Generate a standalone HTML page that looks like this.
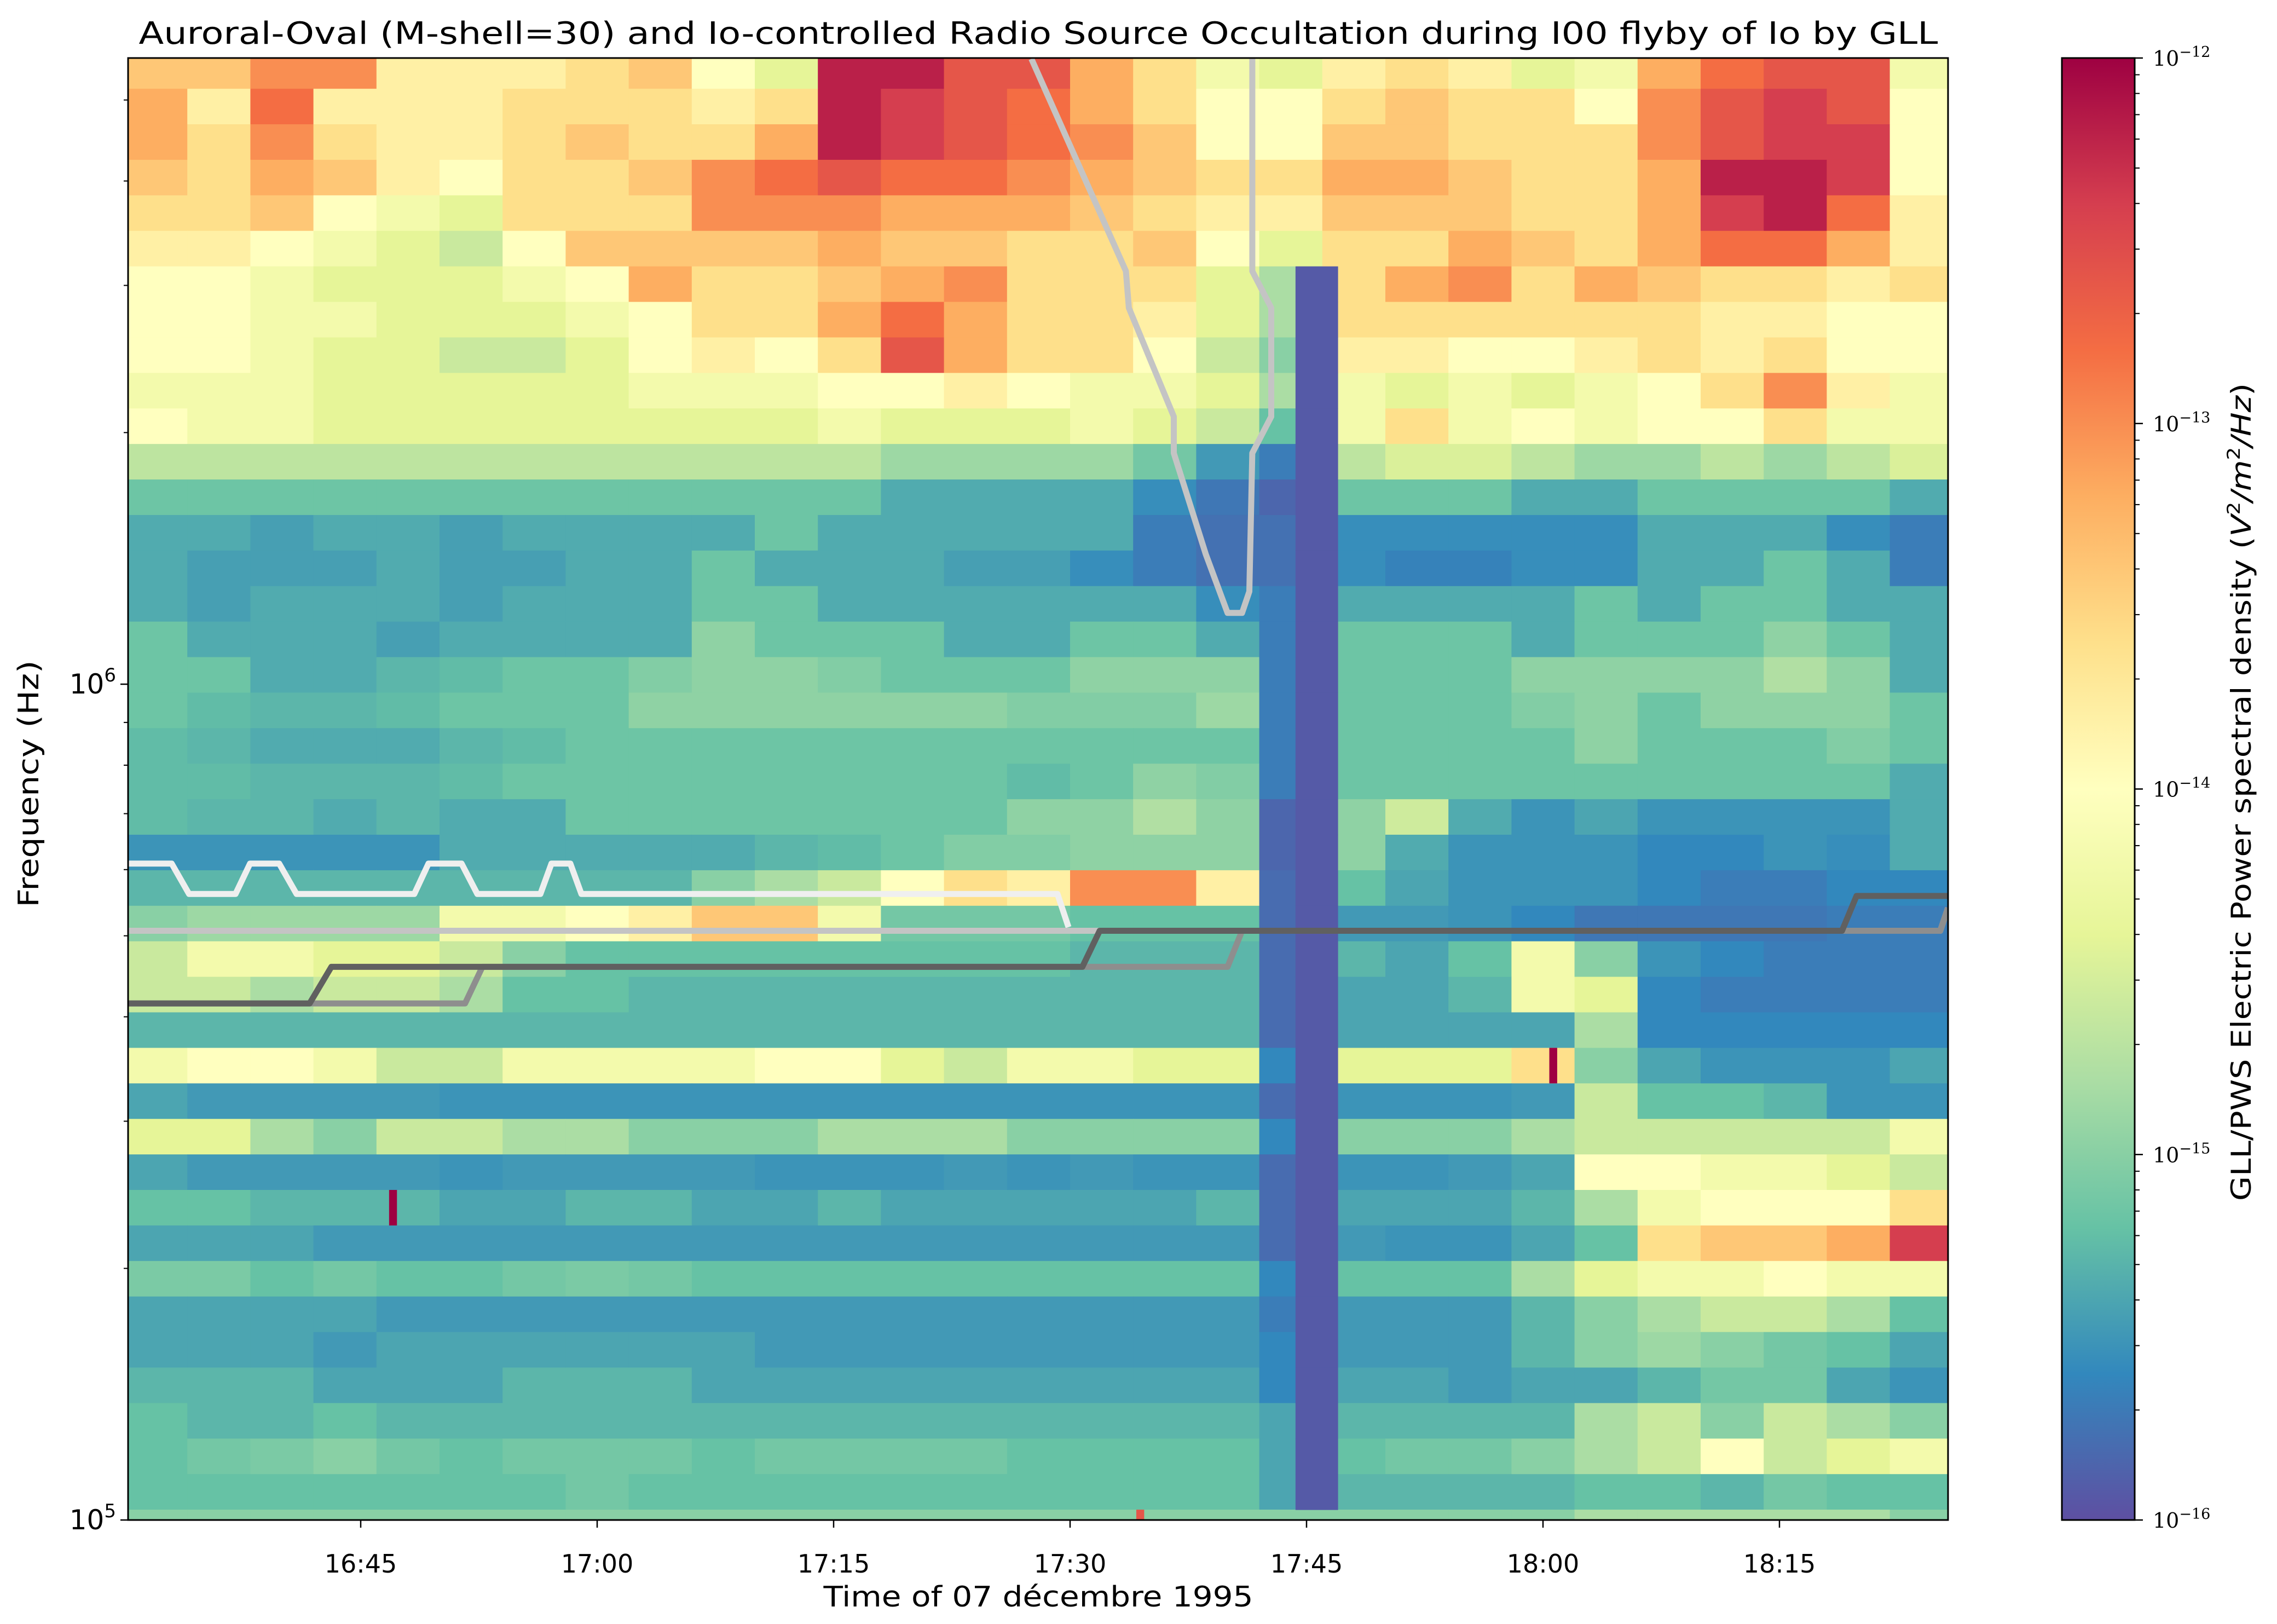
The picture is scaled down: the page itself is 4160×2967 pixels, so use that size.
<!DOCTYPE html>
<html><head><meta charset="utf-8">
<style>
html,body{margin:0;padding:0;background:#fff;}
svg{display:block;font-family:"DejaVu Sans","Liberation Sans",sans-serif;}
</style></head>
<body>
<svg id="fig" xmlns="http://www.w3.org/2000/svg" width="4160" height="2967" viewBox="0 0 4160 2967">
<rect x="0" y="0" width="4160" height="2967" fill="#fff"/>
<defs>
<clipPath id="plotClip"><rect x="234" y="106" width="3325" height="2671"/></clipPath>
<linearGradient id="cbGrad" x1="0" y1="1" x2="0" y2="0">
<stop offset="0" stop-color="#5e4fa2"/><stop offset="0.1" stop-color="#3288bd"/><stop offset="0.2" stop-color="#66c2a5"/><stop offset="0.3" stop-color="#abdda4"/><stop offset="0.4" stop-color="#e6f598"/><stop offset="0.5" stop-color="#ffffbf"/><stop offset="0.6" stop-color="#fee08b"/><stop offset="0.7" stop-color="#fdae61"/><stop offset="0.8" stop-color="#f46d43"/><stop offset="0.9" stop-color="#d53e4f"/><stop offset="1" stop-color="#9e0142"/>
</linearGradient>
</defs>
<text x="1897" y="80" font-size="56" text-anchor="middle" textLength="3287" lengthAdjust="spacingAndGlyphs">Auroral-Oval (M-shell=30) and Io-controlled Radio Source Occultation during I00 flyby of Io by GLL</text>
<g id="heat" clip-path="url(#plotClip)"></g>
<g id="lines" clip-path="url(#plotClip)"></g>
<rect x="234" y="106" width="3325" height="2671" fill="none" stroke="#000" stroke-width="3"/>
<g id="axes"></g>
<text x="1897" y="2935" font-size="52" text-anchor="middle" textLength="785" lengthAdjust="spacingAndGlyphs">Time of 07 décembre 1995</text>
<text transform="translate(70,1432) rotate(-90)" font-size="52" text-anchor="middle" textLength="451" lengthAdjust="spacingAndGlyphs">Frequency (Hz)</text>
<rect x="3767" y="106" width="133" height="2671" fill="url(#cbGrad)" stroke="#000" stroke-width="3"/>
<g id="cbaxis"></g>
<text transform="translate(4112,1447) rotate(-90)" font-size="50" text-anchor="middle" textLength="1494" lengthAdjust="spacingAndGlyphs">GLL/PWS Electric Power spectral density (<tspan font-style="italic">V</tspan><tspan font-size="32" dy="-20">2</tspan><tspan dy="20" font-style="italic">/m</tspan><tspan font-size="32" dy="-20">2</tspan><tspan dy="20" font-style="italic">/Hz</tspan>)</text>
</svg>
<script>
// ---- data (time in minutes after 16:30 UT; levels: log10 PSD = -16 + 0.4*level) ----
const colStartMin = 0;
const colWidthMin = 4;
const chanLogF0 = 5.0124;
const chanLogStep = 0.0425;
const levelRows = [
[6.5,6.5,7.5,7.5,5.5,5.5,5.5,6,6.5,5,4,9.5,9.5,8.5,8.5,7,6,4.5,4,5.5,6,5.5,4,4.5,7,8,8.5,8.5,4.5],
[7,5.5,8,5.5,5.5,5.5,6,6,6,5.5,6,9.5,9,8.5,8,7,6,5,5,6,6.5,6,6,5,7.5,8.5,9,8.5,5],
[7,6,7.5,6,5.5,5.5,6,6.5,6,6,7,9.5,9,8.5,8,7.5,6.5,5,5,6.5,6.5,6,6,6,7.5,8.5,9,9,5],
[6.5,6,7,6.5,5.5,5,6,6,6.5,7.5,8,8.5,8,8,7.5,7,6.5,6,6,7,7,6.5,6,6,7,9.5,9.5,9,5],
[6,6,6.5,5,4.5,4,6,6,6,7.5,7.5,7.5,7,7,7,6.5,6,5.5,5.5,6.5,6.5,6.5,6,6,7,9,9.5,8,5.5],
[5.5,5.5,5,4.5,4,3.5,5,6.5,6.5,6.5,6.5,7,6.5,6.5,6,6,6.5,5,4,6,6,7,6.5,6,7,8,8,7,5.5],
[5,5,4.5,4,4,4,4.5,5,7,6,6,6.5,7,7.5,6,6,6,4,3,6,7,7.5,6,7,6.5,6,6,5.5,6],
[5,5,4.5,4.5,4,4,4,4.5,5,6,6,7,8,7,6,6,5.5,4,3,6,6,6,6,6,6,5.5,5.5,5,5],
[5,5,4.5,4,4,3.5,3.5,4,5,5.5,5,6,8.5,7,6,6,5,3.5,2.5,5.5,5.5,5,5,5.5,6,5.5,6,5,5],
[4.5,4.5,4.5,4,4,4,4,4,4.5,4.5,4.5,5,5,5.5,5,4.5,4.5,4,3,4.5,4,4.5,4,4.5,5,6,7.5,5.5,4.5],
[5,4.5,4.5,4,4,4,4,4,4,4,4,4.5,4,4,4,4.5,4,3.5,2,4.5,6,4.5,5,4.5,5,5,6,4.5,4.5],
[3.3,3.3,3.3,3.3,3.3,3.3,3.3,3.3,3.3,3.3,3.3,3.3,2.8,2.8,2.8,2.8,2.2,1.3,0.8,3.3,3.8,3.8,3.3,2.8,2.8,3.3,2.8,3.3,3.8],
[2.1,2.1,2.1,2.1,2.1,2.1,2.1,2.1,2.1,2.1,2.1,2.1,1.6,1.6,1.6,1.6,1.1,0.7,0.4,2.1,2.1,2.1,1.6,1.6,2.1,2.1,2.1,2.1,1.6],
[1.6,1.6,1.4,1.6,1.6,1.4,1.6,1.6,1.6,1.6,2.1,1.6,1.6,1.6,1.6,1.6,0.8,0.6,0.6,1.1,1.1,1.1,1.1,1.1,1.6,1.6,1.6,1.1,0.8],
[1.6,1.4,1.4,1.4,1.6,1.4,1.4,1.6,1.6,2.1,1.6,1.6,1.6,1.4,1.4,1.1,0.8,0.6,0.6,1.1,0.9,0.9,1.1,1.1,1.6,1.6,2.1,1.6,0.8],
[1.6,1.4,1.6,1.6,1.6,1.4,1.6,1.6,1.6,2.1,2.1,1.6,1.6,1.6,1.6,1.6,1.6,1.1,0.8,1.6,1.6,1.6,1.6,2.1,1.6,2.1,2.1,1.6,1.6],
[2.1,1.6,1.6,1.6,1.4,1.6,1.6,1.6,1.6,2.6,2.1,2.1,2.1,1.6,1.6,2.1,2.1,1.6,0.8,2.1,2.1,2.1,1.6,2.1,2.1,2.1,2.6,2.1,1.6],
[2.1,2.1,1.6,1.6,1.8,1.9,2.1,2.1,2.4,2.6,2.6,2.4,2.1,2.1,2.1,2.6,2.6,2.6,0.8,2.1,2.1,2.1,2.6,2.6,2.6,2.6,3.1,2.6,1.6],
[2.1,1.9,1.8,1.8,1.9,2.1,2.1,2.1,2.6,2.6,2.6,2.6,2.6,2.6,2.4,2.4,2.4,2.8,0.8,2.1,2.1,2.1,2.4,2.6,2.1,2.6,2.6,2.6,2.1],
[1.9,1.8,1.6,1.6,1.6,1.8,1.9,2.1,2.1,2.1,2.1,2.1,2.1,2.1,2.1,2.1,2.1,2.1,0.8,2.1,2.1,2.1,2.1,2.6,2.1,2.1,2.1,2.4,2.1],
[1.9,1.9,1.8,1.8,1.8,1.9,2.1,2.1,2.1,2.1,2.1,2.1,2.1,2.1,1.9,2.1,2.6,2.4,0.8,2.1,2.1,2.1,2.1,2.1,2.1,2.1,2.1,2.1,1.6],
[1.9,1.8,1.8,1.6,1.8,1.6,1.6,2.1,2.1,2.1,2.1,2.1,2.1,2.1,2.6,2.6,3.1,2.6,0.4,2.6,3.6,1.6,1.2,1.5,1.2,1.2,1.2,1.2,1.6],
[1.2,1.2,1.2,1.2,1.2,1.6,1.6,1.6,1.6,1.6,1.8,1.9,2.1,2.4,2.4,2.6,2.6,2.6,0.4,2.6,1.6,1.2,1.2,1.2,1,1,1.2,1.1,1.6],
[1.8,1.8,1.8,1.8,1.8,1.8,1.8,1.8,1.8,2.5,3,3.5,5,6,5.5,7.5,7.5,5.5,0.5,2,1.5,1.2,1.2,1.2,1,0.8,0.8,1,1],
[2.5,2.8,2.8,2.8,2.8,4.5,4.5,5,5.5,6.5,6.5,4.5,2.2,2.2,2.2,2,2,2,0.5,1.3,1.3,1.2,1,0.7,0.7,0.7,0.7,0.8,0.8],
[3.5,4.5,4.5,4,4,3.5,2.5,2,2,2,2,2,2,2,2,1.8,1.8,1.8,0.5,1.8,1.5,2,4.5,2.5,1.2,1,0.8,0.8,0.8],
[3.5,3.5,3,3.5,3.5,3,2,2,1.8,1.8,1.8,1.8,1.8,1.8,1.8,1.8,1.8,1.8,0.5,1.5,1.5,1.8,4.5,4,1,0.8,0.8,0.8,0.8],
[1.8,1.8,1.8,1.8,1.8,1.8,1.8,1.8,1.8,1.8,1.8,1.8,1.8,1.8,1.8,1.8,1.8,1.8,0.5,1.5,1.5,1.5,1.5,3,1,1,1,1,1],
[4.5,5,5,4.5,3.5,3.5,4.5,4.5,4.5,4.5,5,5,4,3.5,4.5,4.5,4,4,1,4,4,4,6,2.5,1.5,1.2,1.2,1.2,1.5],
[1.5,1.3,1.3,1.3,1.3,1.2,1.2,1.2,1.2,1.2,1.2,1.2,1.2,1.2,1.2,1.2,1.2,1.2,0.5,1.2,1.2,1.2,1.3,3.5,2,2,1.8,1.2,1.2],
[4,4,3,2.5,3.5,3.5,3,3,2.5,2.5,2.5,3,3,3,2.5,2.5,2.5,2.5,1,2.5,2.5,2.5,3,3.5,3.5,3.5,3.5,3.5,4.5],
[1.5,1.3,1.3,1.3,1.3,1.2,1.3,1.3,1.3,1.3,1.2,1.2,1.2,1.3,1.2,1.3,1.2,1.2,0.5,1.2,1.2,1.3,1.5,5,5,4.5,4.5,4,3.5],
[2,2,1.8,1.8,1.8,1.5,1.5,1.8,1.8,1.5,1.5,1.8,1.5,1.5,1.5,1.5,1.5,1.8,0.5,1.5,1.5,1.5,1.8,3,4.5,5,5,5,6],
[1.5,1.5,1.5,1.3,1.3,1.3,1.3,1.3,1.3,1.3,1.3,1.3,1.3,1.3,1.3,1.3,1.3,1.3,0.5,1.3,1.2,1.2,1.5,2,6,6.5,6.5,7,9],
[2.3,2.3,2,2.2,2,2,2.2,2.3,2.2,2,2,2,2,2,2,2,2,2,1,2,2,2,3,4,4.5,4.5,5,4.5,4.5],
[1.5,1.5,1.5,1.5,1.3,1.3,1.3,1.3,1.3,1.3,1.3,1.3,1.3,1.3,1.3,1.3,1.3,1.3,0.8,1.3,1.3,1.3,1.8,2.5,3,3.5,3.5,3,2],
[1.5,1.5,1.5,1.3,1.5,1.5,1.5,1.5,1.5,1.5,1.3,1.3,1.3,1.3,1.3,1.3,1.3,1.3,1,1.3,1.3,1.3,1.8,2.5,2.8,2.5,2.2,2,1.5],
[1.8,1.8,1.8,1.5,1.5,1.5,1.8,1.8,1.8,1.5,1.5,1.5,1.5,1.5,1.5,1.5,1.5,1.5,1,1.5,1.5,1.3,1.5,1.5,1.8,2.2,2.2,1.5,1.2],
[2,1.8,1.8,2,1.8,1.8,1.8,1.8,1.8,1.8,1.8,1.8,1.8,1.8,1.8,1.8,1.8,1.8,1.5,1.8,1.8,1.8,1.8,3,3.5,2.5,3.5,3,2.5],
[2,2.2,2.3,2.5,2.2,2,2.2,2.2,2.2,2,2.2,2.2,2.2,2.2,2,2,2,2,1.5,2,2.2,2.2,2.5,3,3.5,5,3.5,4,4.5],
[2,2,2,2,2,2,2,2.2,2,2,2,2,2,2,2,2,2,2,1.5,1.8,1.8,1.8,1.8,2,2,1.8,2.2,2,2],
[2.5,2.5,2.5,2.5,2.5,2.5,2.5,2.5,2.5,2.5,2.5,2.5,2.5,2.5,2.5,2.5,2.5,2.5,2.5,2.5,2.5,2.5,2.5,3,3,3,3,3,2.5]
];
const stripeTimes = [74.3, 77.0];
const stripeRows = [6, 40];
const stripeLevel = 0.2;
const spikeTimes = [16.8, 90.4, 64.2];
const spikeRows = [32, 28, 41];
const spikeLevels = [10, 10, 8.5];
const spikeWidthMin = 0.5;
const ovalTimes = [57.55,63.54,63.73,66.58,66.58,68.61,69.99,70.91,71.37,71.56,72.76,72.76,71.56,71.56];
const ovalFreqs = [5600,3120,2820,2090,1890,1430,1217,1217,1291,1890,2090,2820,3120,5600];
const whiteTimes = [0.24,3.01,4.11,7.06,7.98,9.83,10.93,18.4,19.3,21.4,22.4,26.4,27.1,28.3,29.0,59.2,59.9];
const whiteFreqs = [610,610,561,561,610,610,561,561,610,610,561,561,610,610,561,561,512];
const lgrayTimes = [0.24,115.2,115.69];
const lgrayFreqs = [507,507,540];
const mgrayTimes = [0.24,21.62,22.72,69.99,70.91,115.2,115.69];
const mgrayFreqs = [415,415,459,459,507,507,540];
const dgrayTimes = [0.24,11.76,13.14,60.78,61.88,108.97,109.89,115.69];
const dgrayFreqs = [415,415,459,459,507,507,558,558];
const xTickTimes = [15,30,45,60,75,90,105];
const xTickLabels = ["16:45","17:00","17:15","17:30","17:45","18:00","18:15"];
const cbExponents = [-12,-13,-14,-15,-16];

const PX0=234, PX1=3559, PY0=106, PY1=2777;
function xOf(t){ return 659 + (t-15)*28.8; }
function yOf(lf){ return 2777 - (lf-5)*1527; }
function yOfKHz(k){ return yOf(Math.log10(k*1000)); }
function cbY(lp){ return 2777 - (lp+16)*(2671/4); }
const stops=[[0x5e,0x4f,0xa2],[0x32,0x88,0xbd],[0x66,0xc2,0xa5],[0xab,0xdd,0xa4],[0xe6,0xf5,0x98],[0xff,0xff,0xbf],[0xfe,0xe0,0x8b],[0xfd,0xae,0x61],[0xf4,0x6d,0x43],[0xd5,0x3e,0x4f],[0x9e,0x01,0x42]];
function colorFor(level){
  const v=Math.max(0,Math.min(10,level)); const i=Math.min(9,Math.floor(v)); const f=v-i;
  const a=stops[i], b=stops[i+1];
  return 'rgb('+a.map((c,k)=>Math.round(c+(b[k]-c)*f)).join(',')+')';
}
const NS='http://www.w3.org/2000/svg';
function mk(tag,attrs,parent){ const e=document.createElementNS(NS,tag); for(const k in attrs) e.setAttribute(k,attrs[k]); parent.appendChild(e); return e; }
const nRows=levelRows.length;
function rowTop(r){ const k=nRows-1-r; return r===0?PY0:yOf(chanLogF0+(k)*chanLogStep); }
function rowBot(r){ const k=nRows-1-r; return r===nRows-1?PY1:yOf(chanLogF0+(k-1)*chanLogStep); }

const heat=document.getElementById('heat');
levelRows.forEach((row,r)=>{
  const y0=rowTop(r), y1=rowBot(r);
  row.forEach((lv,c)=>{
    const xa=xOf(colStartMin+c*colWidthMin), xb=xOf(colStartMin+(c+1)*colWidthMin);
    const el=mk('rect',{x:xa,y:y0,width:xb-xa+0.6,height:y1-y0+0.6,fill:colorFor(lv)},heat);
    
    
  });
});
for(let r=stripeRows[0]; r<=stripeRows[1]; r++){
  const el=mk('rect',{x:xOf(stripeTimes[0]),y:rowTop(r),width:xOf(stripeTimes[1])-xOf(stripeTimes[0]),height:rowBot(r)-rowTop(r)+0.6,fill:colorFor(stripeLevel)},heat);
  
  
}
spikeTimes.forEach((t,i)=>{
  const r=spikeRows[i];
  const el=mk('rect',{x:xOf(t),y:rowTop(r),width:spikeWidthMin*28.8,height:rowBot(r)-rowTop(r),fill:colorFor(spikeLevels[i])},heat);
  
  
});

const lines=document.getElementById('lines');
function drawLine(ts,fs,color,name){
  const pts=ts.map((t,i)=>xOf(t).toFixed(1)+','+yOfKHz(fs[i]).toFixed(1)).join(' ');
  const el=mk('polyline',{points:pts,fill:'none',stroke:color,'stroke-width':11,'stroke-linejoin':'round'},lines);
  
  
}
drawLine(ovalTimes,ovalFreqs,'#c4c4c4','auroral-oval-line');
drawLine(whiteTimes,whiteFreqs,'#efefef','io-source-line-white');
drawLine(lgrayTimes,lgrayFreqs,'#c4c4c4','io-source-line-light-gray');
drawLine(mgrayTimes,mgrayFreqs,'#8e8e8e','io-source-line-medium-gray');
drawLine(dgrayTimes,dgrayFreqs,'#606060','io-source-line-dark-gray');

const ax=document.getElementById('axes');
xTickTimes.forEach((t,i)=>{
  const x=xOf(t);
  const tk=mk('line',{x1:x,y1:PY1,x2:x,y2:PY1+14,stroke:'#000','stroke-width':2.5},ax);
  
  
  const lb=mk('text',{x:x,y:2873,'font-size':46,'text-anchor':'middle'},ax);
  lb.textContent=xTickLabels[i];
  
  
});
[5,6].forEach(e=>{
  const y=yOf(e);
  const tk=mk('line',{x1:PX0-14,y1:y,x2:PX0,y2:y,stroke:'#000','stroke-width':2.5},ax);
  
  
  const lb=mk('text',{x:PX0-22,y:y+17,'font-size':50,'text-anchor':'end'},ax);
  
  
  const t1=document.createElementNS(NS,'tspan'); t1.textContent='10'; lb.appendChild(t1);
  const t2=document.createElementNS(NS,'tspan'); t2.setAttribute('font-size','34'); t2.setAttribute('dy','-22'); t2.textContent=String(e); lb.appendChild(t2);
});
[2e5,3e5,4e5,5e5,6e5,7e5,8e5,9e5,2e6,3e6,4e6,5e6].forEach(f=>{
  const y=yOf(Math.log10(f));
  const tk=mk('line',{x1:PX0-8,y1:y,x2:PX0,y2:y,stroke:'#000','stroke-width':2},ax);
  
  
});

const cb=document.getElementById('cbaxis');
cbExponents.forEach(e=>{
  const y=cbY(e);
  const tk=mk('line',{x1:3900,y1:y,x2:3915,y2:y,stroke:'#000','stroke-width':2.5},cb);
  
  
  const lb=mk('text',{x:3933,y:y+14,'font-size':38,'font-family':'"DejaVu Serif","Liberation Serif",serif'},cb);
  
  
  const t1=document.createElementNS(NS,'tspan'); t1.textContent='10'; lb.appendChild(t1);
  const t2=document.createElementNS(NS,'tspan'); t2.setAttribute('font-size','27'); t2.setAttribute('dy','-16'); t2.textContent='\u2212'+String(-e); lb.appendChild(t2);
  if(e>-16){
    for(let m=2;m<=9;m++){
      const ym=cbY(e-1+Math.log10(m));
      const mt=mk('line',{x1:3900,y1:ym,x2:3909,y2:ym,stroke:'#000','stroke-width':2},cb);
      
      
    }
  }
});
</script>
</body></html>
